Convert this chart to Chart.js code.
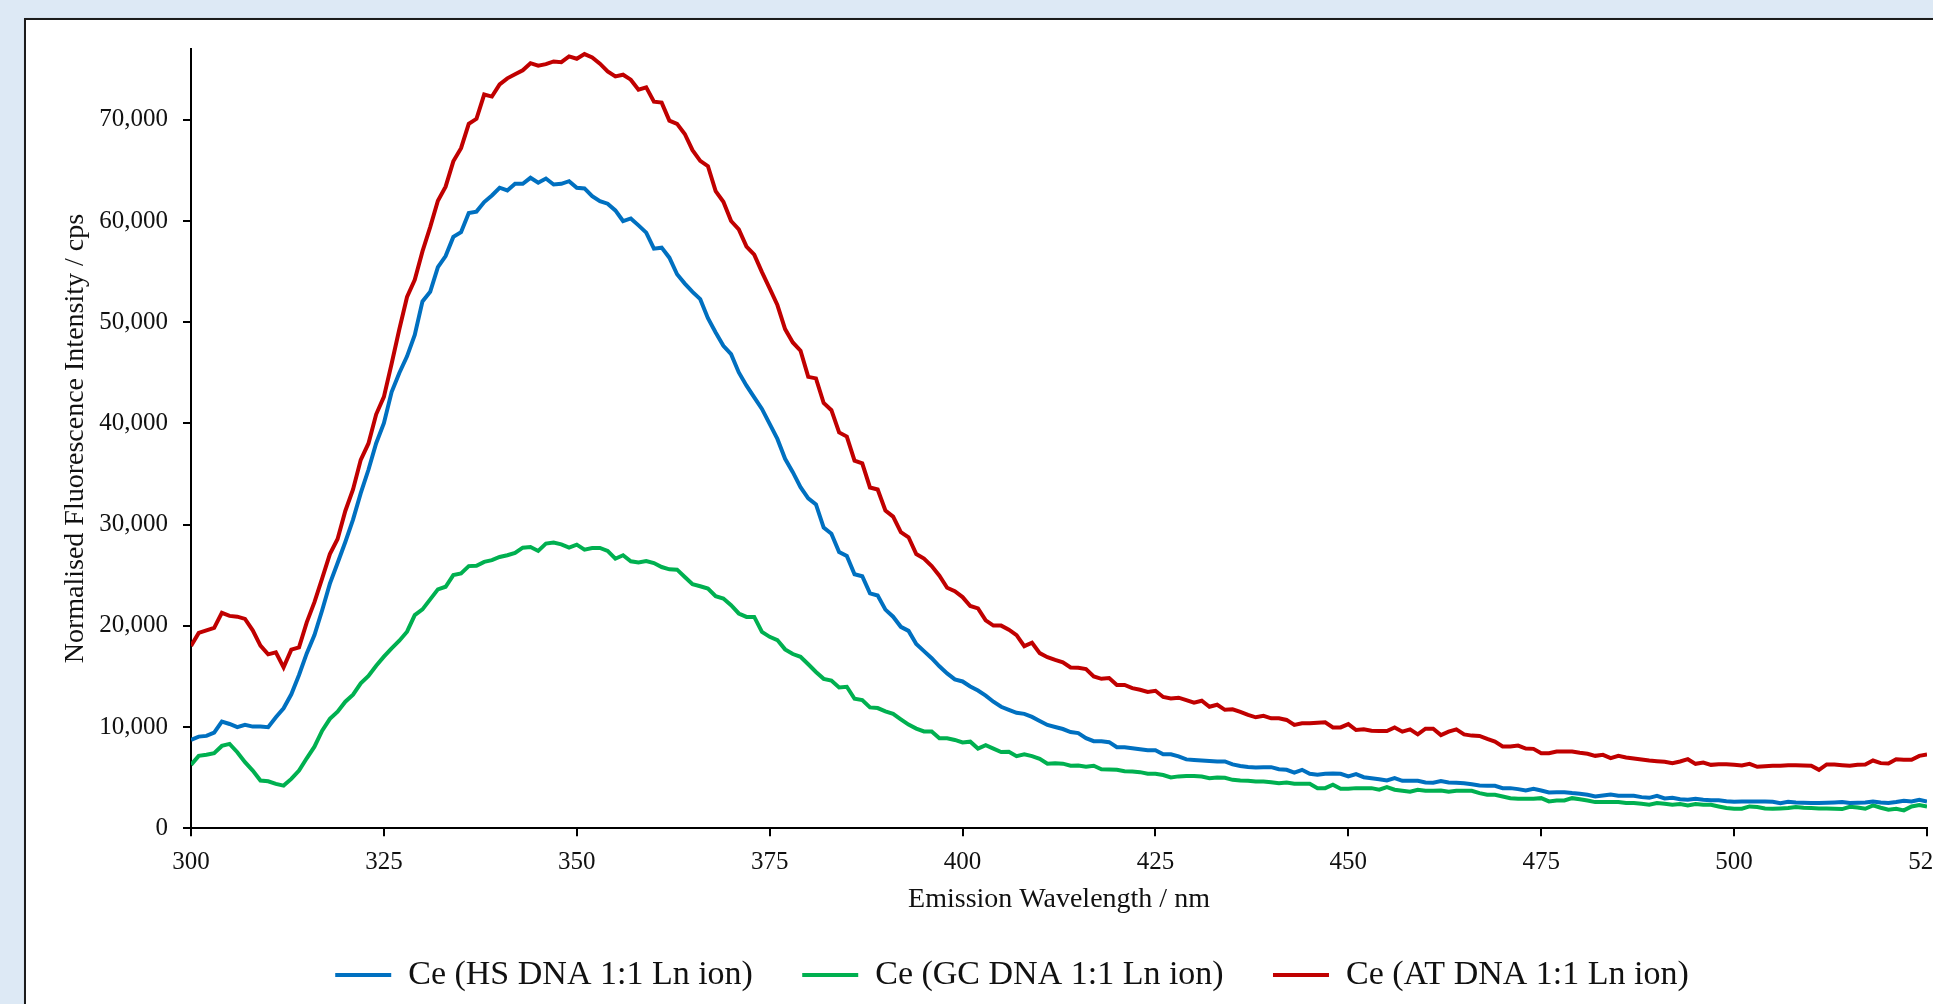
<!doctype html>
<html lang="en">

<head>
    <meta charset="utf-8">
    <title>Ce emission spectra with DNA</title>
    <script src="https://cdn.jsdelivr.net/npm/chart.js"></script>
    <style>
        html,
        body {
            margin: 0;
            padding: 0;
            overflow: hidden;
        }

        body {
            background-color: #dde9f5;
            width: 1933px;
            height: 1004px;
            position: relative;
        }

        .panel {
            position: absolute;
            left: 24px;
            top: 18px;
            width: 2000px;
            height: 1100px;
            background-color: #ffffff;
            border: 2px solid #1c1c1c;
            box-shadow: 1px 1px 2px rgba(0, 0, 0, 0.35);
        }

        #myChart {
            position: absolute;
            left: 0;
            top: 0;
        }
    </style>
</head>

<body>

    <div class="panel"></div>
    <canvas id="myChart" width="2008" height="1002"></canvas>

    <script>
        // emission wavelength, 1 nm steps from 300 to 525 nm
        const wavelengths = [];
        for (let w = 300; w <= 525; w++) {
            wavelengths.push(w);
        }

        const xTicks = [300, 325, 350, 375, 400, 425, 450, 475, 500, 525];
        const yTicks = [0, 10000, 20000, 30000, 40000, 50000, 60000, 70000];

        const seriesNames = ['Ce (HS DNA 1:1 Ln ion)', 'Ce (GC DNA 1:1 Ln ion)', 'Ce (AT DNA 1:1 Ln ion)'];

        // Ce (HS DNA 1:1 Ln ion)
        const hsValues = [
            8730, 9050, 9120, 9450, 10530, 10300, 9980, 10210, 10040, 10040,
            9980, 10960, 11850, 13230, 15140, 17270, 19080, 21540, 24170, 26210,
            28280, 30490, 33110, 35420, 38040, 40030, 43100, 44980, 46630, 48750,
            52060, 53000, 55450, 56540, 58430, 58900, 60790, 60930, 61870, 62530,
            63290, 63020, 63680, 63680, 64270, 63780, 64200, 63610, 63680, 63940,
            63290, 63220, 62460, 61970, 61710, 61050, 60000, 60260, 59570, 58850,
            57270, 57370, 56380, 54740, 53820, 53000, 52280, 50400, 48980, 47670,
            46850, 45040, 43730, 42570, 41430, 39950, 38470, 36500, 35180, 33700,
            32600, 32000, 29700, 29100, 27300, 26900, 25100, 24900, 23200, 23000,
            21600, 20900, 19900, 19500, 18200, 17500, 16800, 16000, 15300, 14700,
            14500, 14000, 13600, 13100, 12500, 12000, 11700, 11400, 11300, 11000,
            10600, 10200, 10000, 9800, 9500, 9400, 8900, 8600, 8600, 8500,
            8000, 8000, 7900, 7800, 7700, 7700, 7300, 7300, 7100, 6800,
            6750, 6700, 6650, 6600, 6600, 6300, 6150, 6050, 6000, 6030,
            6030, 5830, 5770, 5500, 5770, 5370, 5280, 5370, 5400, 5370,
            5110, 5340, 5040, 4940, 4840, 4710, 4940, 4680, 4680, 4680,
            4520, 4490, 4650, 4520, 4490, 4450, 4350, 4220, 4190, 4190,
            3960, 3960, 3860, 3730, 3890, 3730, 3530, 3560, 3560, 3470,
            3400, 3300, 3140, 3240, 3330, 3200, 3200, 3200, 3070, 3000,
            3200, 2940, 3000, 2870, 2810, 2910, 2810, 2770, 2770, 2670,
            2610, 2640, 2640, 2640, 2640, 2610, 2480, 2610, 2540, 2510,
            2480, 2480, 2510, 2540, 2580, 2480, 2510, 2540, 2640, 2540,
            2480, 2580, 2710, 2640, 2810, 2640
        ];

        // Ce (GC DNA 1:1 Ln ion)
        const gcValues = [
            6260, 7150, 7260, 7410, 8130, 8330, 7510, 6520, 5700, 4710,
            4640, 4380, 4210, 4870, 5700, 6910, 8060, 9640, 10800, 11520,
            12500, 13200, 14320, 15040, 16060, 16950, 17770, 18530, 19420, 21060,
            21620, 22610, 23600, 23860, 25010, 25170, 25900, 25930, 26320, 26490,
            26800, 26970, 27200, 27720, 27790, 27400, 28120, 28220, 28050, 27720,
            28020, 27530, 27690, 27690, 27400, 26630, 26970, 26370, 26270, 26400,
            26200, 25810, 25580, 25550, 24830, 24110, 23910, 23680, 22920, 22700,
            22040, 21220, 20880, 20880, 19400, 18910, 18590, 17670, 17210, 16940,
            16200, 15440, 14760, 14590, 13910, 13980, 12790, 12660, 11940, 11870,
            11540, 11300, 10760, 10240, 9840, 9560, 9560, 8880, 8880, 8720,
            8480, 8550, 7870, 8210, 7870, 7530, 7560, 7120, 7300, 7120,
            6850, 6380, 6410, 6380, 6170, 6200, 6070, 6170, 5830, 5800,
            5770, 5630, 5600, 5540, 5390, 5390, 5260, 5020, 5120, 5150,
            5150, 5100, 4940, 5010, 4980, 4780, 4710, 4680, 4620, 4620,
            4550, 4450, 4520, 4390, 4390, 4390, 3960, 3960, 4290, 3890,
            3890, 3960, 3960, 3960, 3800, 4060, 3800, 3700, 3600, 3800,
            3700, 3700, 3730, 3600, 3700, 3700, 3700, 3470, 3300, 3300,
            3140, 2970, 2910, 2910, 2910, 2970, 2650, 2740, 2740, 2970,
            2870, 2740, 2580, 2580, 2580, 2580, 2480, 2480, 2410, 2320,
            2480, 2410, 2320, 2380, 2250, 2380, 2320, 2320, 2150, 1990,
            1920, 1920, 2150, 2090, 1950, 1920, 1950, 1990, 2090, 2020,
            1990, 1950, 1950, 1920, 1890, 2120, 2050, 1920, 2250, 2020,
            1820, 1920, 1760, 2150, 2280, 2150
        ];

        // Ce (AT DNA 1:1 Ln ion)
        const atValues = [
            18000, 19300, 19550, 19800, 21280, 20980, 20900, 20680, 19550, 18050,
            17180, 17380, 15890, 17650, 17870, 20340, 22340, 24680, 27090, 28580,
            31350, 33480, 36400, 38020, 40900, 42620, 45900, 49300, 52500, 54200,
            57000, 59400, 62000, 63400, 65900, 67200, 69600, 70100, 72500, 72300,
            73500, 74100, 74500, 74900, 75600, 75350, 75500, 75770, 75700, 76270,
            76040, 76500, 76170, 75550, 74790, 74290, 74460, 73970, 72980, 73210,
            71800, 71700, 69920, 69600, 68600, 67000, 65950, 65420, 62960, 61900,
            60000, 59180, 57480, 56680, 54950, 53340, 51700, 49320, 48000, 47180,
            44600, 44450, 42020, 41310, 39110, 38700, 36320, 36050, 33670, 33470,
            31400, 30790, 29260, 28750, 27090, 26640, 25900, 24950, 23760, 23420,
            22840, 21960, 21720, 20540, 20020, 20020, 19620, 19070, 17990, 18330,
            17300, 16900, 16630, 16390, 15880, 15850, 15720, 15000, 14760, 14830,
            14150, 14150, 13840, 13680, 13470, 13580, 12970, 12830, 12900, 12660,
            12400, 12600, 12000, 12200, 11700, 11750, 11500, 11200, 10960, 11100,
            10860, 10860, 10700, 10200, 10360, 10360, 10430, 10460, 9960, 9960,
            10290, 9700, 9770, 9630, 9600, 9600, 9960, 9540, 9770, 9270,
            9830, 9830, 9200, 9540, 9770, 9270, 9150, 9120, 8820, 8560,
            8070, 8070, 8170, 7870, 7840, 7410, 7410, 7580, 7580, 7580,
            7450, 7350, 7150, 7250, 6920, 7150, 6990, 6890, 6790, 6690,
            6620, 6560, 6430, 6590, 6820, 6360, 6490, 6260, 6330, 6330,
            6260, 6200, 6360, 6070, 6130, 6170, 6170, 6230, 6230, 6200,
            6170, 5770, 6300, 6300, 6230, 6170, 6260, 6300, 6690, 6430,
            6390, 6820, 6760, 6760, 7150, 7280
        ];

        const serif = "'Liberation Serif', 'Times New Roman', serif";

        function toPoints(values) {
            return values.map((v, i) => ({ x: wavelengths[i], y: v }));
        }

        const data = {
            datasets: [{
                label: seriesNames[0],
                data: toPoints(hsValues),
                borderColor: '#0070c0',
                backgroundColor: '#0070c0',
            }, {
                label: seriesNames[1],
                data: toPoints(gcValues),
                borderColor: '#00b050',
                backgroundColor: '#00b050',
            }, {
                label: seriesNames[2],
                data: toPoints(atValues),
                borderColor: '#c00000',
                backgroundColor: '#c00000',
            }]
        };

        data.datasets.forEach(ds => {
            ds.borderWidth = 4;
            ds.pointRadius = 0;
            ds.tension = 0;
            ds.fill = false;
        });

        const config = {
            type: 'line',
            data: data,
            options: {
                responsive: false,
                animation: false,
                layout: {
                    padding: { left: 97, top: 49, right: 81, bottom: 0 }
                },
                plugins: {
                    legend: {
                        position: 'bottom',
                        labels: {
                            usePointStyle: true,
                            pointStyle: 'line',
                            pointStyleWidth: 56,
                            padding: 49.3,
                            color: '#111',
                            font: { family: serif, size: 34 }
                        }
                    },
                    tooltip: { enabled: false }
                },
                scales: {
                    x: {
                        type: 'linear',
                        min: 300,
                        max: 525,
                        afterFit: axis => { axis.height = 80.5; },
                        afterBuildTicks: axis => {
                            axis.ticks = xTicks.map(v => ({ value: v }));
                        },
                        border: { display: true, color: '#000', width: 2 },
                        grid: {
                            drawOnChartArea: false,
                            drawTicks: true,
                            tickLength: 8,
                            color: '#000',
                            lineWidth: 2
                        },
                        ticks: {
                            color: '#111',
                            padding: 11,
                            maxRotation: 0,
                            font: { family: serif, size: 25 }
                        },
                        title: {
                            display: true,
                            text: 'Emission Wavelength / nm',
                            color: '#111',
                            padding: { top: 0, bottom: -7.5 },
                            font: { family: serif, size: 28 }
                        }
                    },
                    y: {
                        min: 0,
                        max: 77000,
                        afterFit: axis => { axis.width = 94; },
                        afterBuildTicks: axis => {
                            axis.ticks = yTicks.map(v => ({ value: v }));
                        },
                        border: { display: true, color: '#000', width: 2 },
                        grid: {
                            drawOnChartArea: false,
                            drawTicks: true,
                            tickLength: 8,
                            color: '#000',
                            lineWidth: 2
                        },
                        ticks: {
                            color: '#111',
                            padding: 15,
                            font: { family: serif, size: 25 },
                            callback: value => value.toLocaleString('en-US')
                        },
                        title: {
                            display: true,
                            text: 'Normalised Fluorescence Intensity / cps',
                            color: '#111',
                            padding: { top: -37.8, bottom: 0 },
                            font: { family: serif, size: 28 }
                        }
                    }
                }
            }
        };

        const myChart = new Chart(
            document.getElementById('myChart'),
            config
        );
    </script>

</body>

</html>
